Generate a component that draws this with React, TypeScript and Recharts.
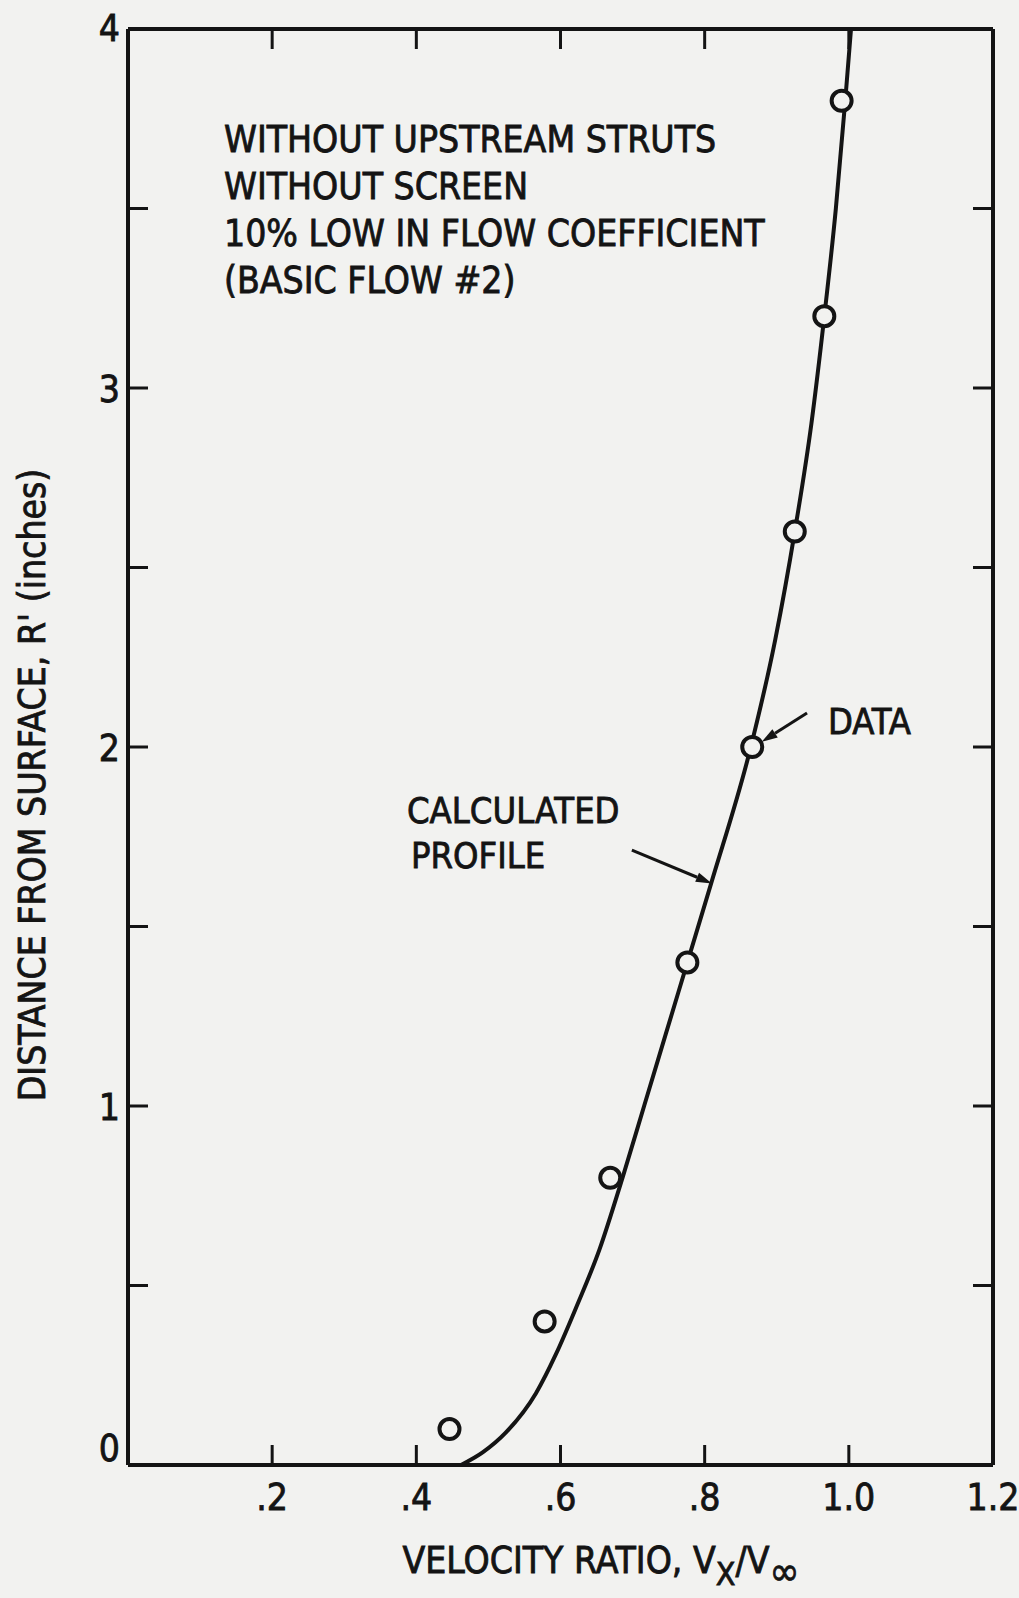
import React from "react";
import { ComposedChart, Line, Scatter, XAxis, YAxis, ReferenceLine } from "recharts";

// axis ticks
const xTicks = [0.2, 0.4, 0.6, 0.8, 1.0, 1.2];
const xTickLabels = [".2", ".4", ".6", ".8", "1.0", "1.2"];
const yTicks = [0, 0.5, 1, 1.5, 2, 2.5, 3, 3.5, 4];
const yTickLabels = ["0", "", "1", "", "2", "", "3", "", "4"];

// measured data (circles)
const dataVelocity = [0.446, 0.578, 0.669, 0.776, 0.866, 0.925, 0.966, 0.99];
const dataDistance = [0.1, 0.4, 0.8, 1.4, 2.0, 2.6, 3.2, 3.8];

// calculated profile (solid curve)
const profileVelocity = [0.462, 0.492, 0.524, 0.566, 0.594, 0.622, 0.654, 0.686, 0.716, 0.746, 0.776, 0.809, 0.864, 0.898, 0.925, 0.948, 0.966, 0.982, 0.995, 1.003];
const profileDistance = [0, 0.035, 0.09, 0.2, 0.31, 0.44, 0.6, 0.8, 1.0, 1.2, 1.4, 1.62, 2.0, 2.3, 2.6, 2.9, 3.2, 3.5, 3.8, 4.0];

const noteLines = [
  "WITHOUT UPSTREAM STRUTS",
  "WITHOUT SCREEN",
  "10% LOW IN FLOW COEFFICIENT",
  "(BASIC FLOW #2)",
];

const INK = "#141414";
const BG = "#f2f2f0";
const FONT = "'DejaVu Sans Condensed', 'Liberation Sans Narrow', sans-serif";
const textStyle = { fontFamily: FONT, fill: INK, stroke: INK, strokeWidth: 0.8 };

const points = dataVelocity.map((x, i) => ({ x, y: dataDistance[i] }));
const profile = profileVelocity.map((x, i) => ({ x, y: profileDistance[i] }));

function BottomTick(props: any) {
  const { x, y, payload } = props;
  const i = xTicks.indexOf(payload.value);
  return (
    <g>
      {payload.value < 1.2 && <line x1={x} x2={x} y1={y} y2={y - 20} stroke={INK} strokeWidth={3} />}
      <text x={x} y={y + 45} textAnchor="middle" fontSize={37} style={textStyle}>
        {xTickLabels[i]}
      </text>
    </g>
  );
}

function TopTick(props: any) {
  const { x, y, payload } = props;
  if (payload.value >= 1.2) return <g />;
  return <line x1={x} x2={x} y1={y} y2={y + 20} stroke={INK} strokeWidth={3} />;
}

function LeftTick(props: any) {
  const { x, y, payload } = props;
  const i = yTicks.indexOf(payload.value);
  const v = payload.value;
  const dy = v === 0 ? -4 : v === 4 ? 12 : 14;
  return (
    <g>
      {v > 0 && v < 4 && <line x1={x} x2={x + 20} y1={y} y2={y} stroke={INK} strokeWidth={3} />}
      <text x={x - 8} y={y + dy} textAnchor="end" fontSize={37} style={textStyle}>
        {yTickLabels[i]}
      </text>
    </g>
  );
}

function RightTick(props: any) {
  const { x, y, payload } = props;
  const v = payload.value;
  if (v <= 0 || v >= 4) return <g />;
  return <line x1={x} x2={x - 20} y1={y} y2={y} stroke={INK} strokeWidth={3} />;
}

const Ring = (props: any) => (
  <circle cx={props.cx} cy={props.cy} r={10} fill={BG} stroke={INK} strokeWidth={4} />
);

const Arrow = (props: any) => {
  const { x1, y1, x2, y2 } = props;
  const a = Math.atan2(y2 - y1, x2 - x1);
  const len = 16;
  const w = 5;
  const bx = x2 - len * Math.cos(a);
  const by = y2 - len * Math.sin(a);
  const px = -Math.sin(a) * w;
  const py = Math.cos(a) * w;
  return (
    <g>
      <line x1={x1} y1={y1} x2={bx} y2={by} stroke={INK} strokeWidth={3} />
      <polygon points={`${x2},${y2} ${bx + px},${by + py} ${bx - px},${by - py}`} fill={INK} />
    </g>
  );
};

export default function App() {
  return (
    <div style={{ position: "absolute", left: 0, top: 0, width: 1019, height: 1598, background: BG }}>
      <ComposedChart
        width={1019}
        height={1598}
        margin={{ top: 28, right: 25, bottom: 132, left: 0 }}
      >
        <XAxis
          xAxisId="b"
          type="number"
          dataKey="x"
          domain={[0, 1.2]}
          ticks={xTicks}
          height={1}
          tickSize={0}
          tickMargin={0}
          tickLine={false}
          tick={<BottomTick />}
          axisLine={{ stroke: INK, strokeWidth: 4 }}
          allowDataOverflow
        />
        <XAxis
          xAxisId="t"
          orientation="top"
          type="number"
          dataKey="x"
          domain={[0, 1.2]}
          ticks={xTicks}
          height={1}
          tickSize={0}
          tickMargin={0}
          tickLine={false}
          tick={<TopTick />}
          axisLine={{ stroke: INK, strokeWidth: 4 }}
          allowDataOverflow
        />
        <YAxis
          yAxisId="l"
          type="number"
          dataKey="y"
          domain={[0, 4]}
          ticks={yTicks}
          width={128}
          tickSize={0}
          tickMargin={0}
          tickLine={false}
          tick={<LeftTick />}
          axisLine={{ stroke: INK, strokeWidth: 4 }}
          allowDataOverflow
        />
        <YAxis
          yAxisId="r"
          orientation="right"
          type="number"
          dataKey="y"
          domain={[0, 4]}
          ticks={yTicks}
          width={1}
          tickSize={0}
          tickMargin={0}
          tickLine={false}
          tick={<RightTick />}
          axisLine={{ stroke: INK, strokeWidth: 4 }}
          allowDataOverflow
        />
        <Line
          xAxisId="b"
          yAxisId="l"
          data={profile}
          dataKey="y"
          type="monotone"
          stroke={INK}
          strokeWidth={4}
          dot={false}
          activeDot={false}
          isAnimationActive={false}
        />
        <Scatter
          xAxisId="b"
          yAxisId="l"
          data={points}
          shape={<Ring />}
          isAnimationActive={false}
        />
        <ReferenceLine
          xAxisId="b"
          yAxisId="l"
          segment={[{ x: 0.942, y: 2.095 }, { x: 0.879, y: 2.014 }]}
          shape={Arrow}
        />
        <ReferenceLine
          xAxisId="b"
          yAxisId="l"
          segment={[{ x: 0.699, y: 1.713 }, { x: 0.81, y: 1.62 }]}
          shape={Arrow}
        />
      </ComposedChart>
      <svg
        width={1019}
        height={1598}
        style={{ position: "absolute", left: 0, top: 0, pointerEvents: "none", ...textStyle }}
      >
        {noteLines.map((t, i) => (
          <text key={t} x={224} y={152 + i * 47} fontSize={37}>
            {t}
          </text>
        ))}
        <text x={407} y={823} fontSize={36}>CALCULATED</text>
        <text x={411} y={868} fontSize={36}>PROFILE</text>
        <text x={828} y={734} fontSize={36}>DATA</text>
        <text x={601} y={1573} fontSize={37} textAnchor="middle">
          VELOCITY RATIO, V
          <tspan fontSize={32} dy={12}>X</tspan>
          <tspan dy={-12}>/V</tspan>
          <tspan fontSize={40} dy={12}>∞</tspan>
        </text>
        <text transform="translate(45, 785) rotate(-90)" textAnchor="middle" fontSize={37}>
          DISTANCE FROM SURFACE, R' (inches)
        </text>
      </svg>
    </div>
  );
}
